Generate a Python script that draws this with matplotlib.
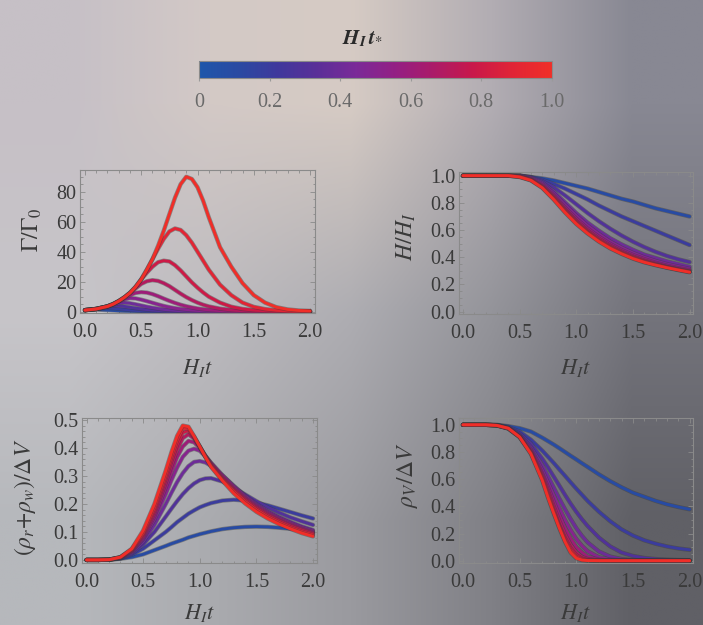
import numpy as np
import matplotlib
matplotlib.use('Agg')
import matplotlib.pyplot as plt
from matplotlib.colors import LinearSegmentedColormap, Normalize, to_rgb
from matplotlib.cm import ScalarMappable
from matplotlib.ticker import MultipleLocator
from matplotlib import patheffects as pe

plt.rcParams['font.family'] = ['Liberation Serif', 'DejaVu Serif']
plt.rcParams['mathtext.fontset'] = 'stix'

# curve parameter H_I t_*
t_star = [0.1, 0.2, 0.3, 0.4, 0.5, 0.6, 0.7, 0.8, 0.9, 1.0]

# --- panel 1: Gamma / Gamma_0 ---
x_gamma = [0, .1, .2, .25, .3, .35, .4, .45, .5, .55, .6, .65, .7, .75, .8, .85, .9, .95,
           1.0, 1.05, 1.1, 1.2, 1.3, 1.4, 1.5, 1.6, 1.7, 1.8, 1.9, 2.0]
gamma = [
    [1, 1.4, 1.0, .8, .6, .45, .33, .25, .18, .13, .1, .07, .05, .04, .03, .02, .015, .01, .01, 0, 0, 0, 0, 0, 0, 0, 0, 0, 0, 0],
    [1, 1.7, 2.5, 2.3, 1.9, 1.5, 1.1, .8, .6, .45, .33, .24, .17, .12, .09, .06, .05, .04, .03, .02, .02, .01, 0, 0, 0, 0, 0, 0, 0, 0],
    [1, 1.8, 3.4, 3.9, 3.9, 3.5, 2.9, 2.3, 1.8, 1.35, 1.0, .75, .55, .4, .3, .22, .16, .12, .09, .07, .05, .03, .02, .01, 0, 0, 0, 0, 0, 0],
    [1, 1.8, 3.5, 4.7, 5.7, 6.0, 5.6, 4.9, 4.1, 3.3, 2.6, 2.0, 1.5, 1.15, .85, .63, .47, .35, .26, .19, .14, .08, .04, .02, .01, 0, 0, 0, 0, 0],
    [1, 1.8, 3.5, 5.0, 6.7, 8.2, 9.0, 8.8, 8.0, 7.0, 5.9, 4.8, 3.8, 3.0, 2.3, 1.8, 1.4, 1.05, .8, .6, .45, .25, .14, .08, .04, .02, .01, 0, 0, 0],
    [1, 1.8, 3.5, 5.0, 7.0, 9.0, 11.0, 12.5, 13.0, 12.7, 11.7, 10.3, 8.7, 7.2, 5.8, 4.6, 3.6, 2.8, 2.1, 1.6, 1.2, .7, .4, .22, .12, .07, .04, .02, .01, .01],
    [1, 1.8, 3.5, 5.0, 7.0, 9.5, 12.5, 15.5, 18.5, 20.3, 21.0, 20.5, 19.0, 17.0, 14.5, 12.0, 9.7, 7.7, 6.0, 4.6, 3.5, 2.0, 1.1, .6, .35, .2, .1, .06, .03, .02],
    [1, 1.8, 3.5, 5.0, 7.0, 9.5, 12.5, 16.5, 21.5, 26.0, 30.0, 33.0, 34.0, 33.5, 31.0, 27.5, 23.5, 19.5, 16.0, 12.8, 10.0, 6.0, 3.3, 1.8, 1.0, .6, .35, .2, .1, .06],
    [1, 1.8, 3.5, 5.0, 7.0, 9.5, 12.5, 16.5, 21.5, 28.0, 35.0, 42.0, 48.5, 53.5, 55.5, 54.5, 51.0, 46.0, 40.0, 34.0, 28.0, 18.0, 11.0, 6.0, 3.2, 1.7, .9, .5, .3, .2],
    [1, 1.8, 3.5, 5.0, 7.0, 9.5, 12.5, 16.5, 21.5, 28.0, 35.0, 44.0, 54.0, 65.0, 76.0, 85.0, 90.0, 88.5, 83.0, 74.0, 63.0, 43.0, 30.0, 19.0, 11.0, 6.0, 3.0, 1.5, .8, .5],
]

# --- panel 2: H / H_I ---
x_hubble = [0, .1, .2, .3, .4, .5, .6, .7, .8, .9, 1.0, 1.1, 1.2, 1.3, 1.4, 1.5, 1.6, 1.7, 1.8, 1.9, 2.0]
hubble = [
    [1, 1, 1, 1, 1, 1, .99, .98, .965, .945, .925, .905, .88, .855, .83, .81, .785, .76, .74, .72, .70],
    [1, 1, 1, 1, 1, 1, .99, .97, .94, .905, .865, .825, .78, .74, .70, .665, .63, .595, .56, .525, .49],
    [1, 1, 1, 1, 1, 1, .988, .96, .915, .855, .79, .725, .665, .61, .56, .515, .475, .44, .41, .385, .365],
    [1, 1, 1, 1, 1, 1, .985, .95, .885, .805, .725, .655, .595, .54, .495, .455, .42, .395, .37, .35, .33],
    [1, 1, 1, 1, 1, .998, .98, .94, .87, .785, .705, .632, .57, .515, .47, .432, .40, .373, .35, .332, .315],
    [1, 1, 1, 1, 1, .996, .975, .93, .855, .765, .683, .61, .55, .497, .453, .417, .386, .36, .338, .32, .305],
    [1, 1, 1, 1, 1, .995, .972, .922, .845, .752, .668, .596, .536, .485, .442, .406, .376, .352, .33, .313, .298],
    [1, 1, 1, 1, 1, .993, .969, .917, .836, .743, .658, .586, .526, .476, .434, .399, .37, .347, .327, .31, .294],
    [1, 1, 1, 1, 1, .992, .967, .913, .83, .736, .651, .58, .52, .47, .429, .394, .366, .344, .325, .308, .292],
    [1, 1, 1, 1, 1, .99, .965, .91, .825, .73, .645, .575, .515, .465, .425, .39, .363, .342, .323, .306, .29],
]

# --- panel 3: (rho_r + rho_w) / Delta V ---
x_rad = [0, .1, .2, .3, .4, .5, .6, .7, .75, .8, .85, .9, .95, 1.0, 1.05, 1.1,
         1.2, 1.3, 1.4, 1.5, 1.6, 1.7, 1.8, 1.9, 2.0]
rad = [
    [0, 0, .001, .004, .01, .02, .035, .05, .058, .065, .072, .08, .086, .092, .097, .102, .11, .115, .118, .119, .118, .115, .111, .106, .100],
    [0, 0, .001, .005, .018, .04, .07, .1, .117, .135, .15, .165, .177, .188, .196, .203, .212, .215, .212, .205, .195, .183, .171, .159, .148],
    [0, 0, .001, .006, .022, .055, .1, .155, .183, .21, .235, .256, .273, .285, .291, .292, .28, .258, .234, .21, .188, .169, .152, .138, .125],
    [0, 0, .001, .007, .026, .065, .125, .2, .24, .278, .31, .335, .35, .353, .348, .336, .302, .265, .23, .2, .175, .154, .136, .12, .107],
    [0, 0, .001, .008, .03, .075, .145, .235, .285, .33, .368, .39, .397, .39, .37, .347, .303, .263, .227, .196, .171, .15, .132, .116, .103],
    [0, 0, .001, .008, .032, .08, .157, .26, .315, .367, .405, .425, .42, .4, .372, .345, .298, .258, .222, .192, .167, .146, .128, .112, .099],
    [0, 0, .001, .009, .034, .086, .168, .277, .337, .393, .435, .449, .433, .404, .371, .341, .293, .253, .218, .188, .163, .142, .124, .109, .096],
    [0, 0, .001, .009, .036, .092, .178, .292, .355, .412, .455, .462, .438, .405, .37, .338, .289, .249, .214, .184, .159, .139, .121, .106, .093],
    [0, 0, .001, .01, .038, .097, .188, .305, .37, .428, .47, .47, .44, .405, .368, .335, .286, .245, .209, .179, .154, .134, .116, .101, .089],
    [0, 0, .001, .01, .04, .105, .2, .32, .385, .443, .48, .476, .442, .405, .367, .332, .283, .238, .202, .172, .148, .128, .111, .096, .084],
]

# --- panel 4: rho_V / Delta V ---
x_vac = x_rad
vac = [
    [1, 1, 1, 1, .99, .975, .95, .905, .88, .855, .828, .80, .772, .745, .717, .69, .635, .585, .54, .50, .47, .44, .415, .395, .378],
    [1, 1, 1, .998, .985, .95, .89, .81, .765, .72, .672, .625, .577, .53, .485, .44, .36, .29, .23, .185, .15, .125, .105, .09, .08],
    [1, 1, 1, .997, .98, .935, .86, .75, .687, .62, .553, .485, .42, .36, .305, .255, .17, .105, .06, .035, .02, .012, .008, .005, .004],
    [1, 1, 1, .997, .978, .925, .835, .70, .622, .54, .458, .38, .307, .24, .183, .135, .068, .03, .012, .005, .002, .001, 0, 0, 0],
    [1, 1, 1, .996, .976, .92, .82, .665, .575, .48, .388, .30, .225, .16, .11, .07, .025, .008, .003, .001, 0, 0, 0, 0, 0],
    [1, 1, 1, .996, .975, .915, .81, .64, .54, .435, .335, .24, .163, .10, .06, .03, .008, .002, 0, 0, 0, 0, 0, 0, 0],
    [1, 1, 1, .996, .974, .912, .80, .625, .515, .40, .293, .195, .117, .06, .028, .012, .003, 0, 0, 0, 0, 0, 0, 0, 0],
    [1, 1, 1, .996, .973, .91, .795, .61, .495, .375, .26, .165, .09, .04, .015, .005, .001, 0, 0, 0, 0, 0, 0, 0, 0],
    [1, 1, 1, .995, .972, .91, .79, .60, .478, .36, .25, .15, .075, .028, .009, .002, 0, 0, 0, 0, 0, 0, 0, 0, 0],
    [1, 1, 1, .995, .975, .91, .785, .59, .465, .35, .24, .14, .06, .018, .004, .001, 0, 0, 0, 0, 0, 0, 0, 0, 0],
]

cbar_ticks = [0, 0.2, 0.4, 0.6, 0.8, 1.0]
cbar_labels = ['0', '0.2', '0.4', '0.6', '0.8', '1.0']

cmap = LinearSegmentedColormap.from_list('hts', [
    '#1d56aa', '#2a4aa2', '#3f389c', '#5a2f98', '#7a2a98',
    '#931f84', '#ab1b68', '#c8184a', '#e02436', '#f02e28'])

TXT = '#3a3a3a'
FRAME = '#8a8a8a'

fig = plt.figure(figsize=(7.03, 6.25), dpi=100)

# soft background gradient
bg_rows = [
    ['#c6c0c6', '#d3c9c6', '#d6cbc4', '#b2adb3', '#888893'],
    ['#c7c5c9', '#bdbbbf', '#aeadb2', '#94949a', '#74747c'],
    ['#b6b8bc', '#aaabaf', '#9a9a9f', '#808086', '#606066'],
]
bg_img = np.array([[to_rgb(c) for c in row] for row in bg_rows])
bg = fig.add_axes([0, 0, 1, 1], zorder=-10)
bg.imshow(bg_img, aspect='auto', interpolation='bilinear', extent=[0, 1, 0, 1])
bg.axis('off')


def draw_panel(rect, xs, rows, xlim, ylim, ymaj, ymin, ylabel, ylab_xy, xlab_y):
    ax = fig.add_axes(rect)
    ax.set_facecolor('none')
    for t, ys in zip(t_star, rows):
        ax.plot(xs, ys, color=cmap(t), lw=2.1, solid_capstyle='round', solid_joinstyle='round',
                path_effects=[pe.Stroke(linewidth=3.1, foreground='#3a3a3a', alpha=0.45), pe.Normal()])
    ax.set_xlim(*xlim)
    ax.set_ylim(*ylim)
    ax.xaxis.set_major_locator(MultipleLocator(0.5))
    ax.xaxis.set_minor_locator(MultipleLocator(0.1))
    ax.yaxis.set_major_locator(MultipleLocator(ymaj))
    ax.yaxis.set_minor_locator(MultipleLocator(ymin))
    ax.xaxis.set_major_formatter(plt.FuncFormatter(lambda v, p: f'{v:.1f}'))
    if ymaj < 1:
        ax.yaxis.set_major_formatter(plt.FuncFormatter(lambda v, p: f'{v:.1f}'))
    ax.tick_params(which='both', direction='in', top=True, right=True, color=FRAME, width=0.6)
    ax.tick_params(which='major', length=3.5)
    ax.tick_params(which='minor', length=1.8)
    ax.tick_params(axis='x', labelsize=14.5, labelcolor=TXT, pad=7.5)
    ax.tick_params(axis='y', labelsize=14.5, labelcolor=TXT, pad=2.5)
    for s in ax.spines.values():
        s.set_color(FRAME)
        s.set_linewidth(0.8)
    ax.set_xlabel(r'$H_I t$', fontsize=16, color=TXT)
    ax.xaxis.set_label_coords(0.5, xlab_y)
    ax.set_ylabel(ylabel, fontsize=17, color=TXT)
    ax.yaxis.set_label_coords(*ylab_xy)
    return ax


draw_panel([0.1138, 0.4992, 0.3343, 0.2288], x_gamma, gamma, (-0.044, 2.044), (-0.9, 94.5),
           20, 5, r'$\Gamma/\Gamma_0$', (-0.152, 0.58), -0.305)
draw_panel([0.6529, 0.4976, 0.3329, 0.2272], x_hubble, hubble, (-0.035, 2.03), (-0.017, 1.027),
           0.2, 0.05, r'$H/H_I$', (-0.175, 0.55), -0.305)
draw_panel([0.1166, 0.0992, 0.3343, 0.2320], x_rad, rad, (-0.04, 2.035), (-0.011, 0.507),
           0.1, 0.02, r'$(\rho_r{+}\rho_w)/\Delta V$', (-0.185, 0.45), -0.27)
draw_panel([0.6529, 0.0992, 0.3329, 0.2320], x_vac, vac, (-0.035, 2.03), (-0.017, 1.05),
           0.2, 0.05, r'$\rho_V/\Delta V$', (-0.165, 0.61), -0.27)

# colour bar on top
cax = fig.add_axes([0.283, 0.875, 0.502, 0.027])
cb = fig.colorbar(ScalarMappable(norm=Normalize(0, 1), cmap=cmap), cax=cax, orientation='horizontal')
cb.set_ticks(cbar_ticks)
cb.set_ticklabels(cbar_labels)
cb.outline.set_edgecolor('#8a8a8a')
cb.outline.set_linewidth(0.8)
cax.tick_params(labelsize=14.5, labelcolor='#6a6a6a', color='#9a9a9a', length=2, pad=9)
fig.text(0.515, 0.9376, r'$\mathbfit{H}_{\mathbfit{I}}\,\mathbfit{t}_{*}$', fontsize=15,
         color='#2a2a2a', ha='center', va='center')

fig.savefig('out.png', dpi=100)
